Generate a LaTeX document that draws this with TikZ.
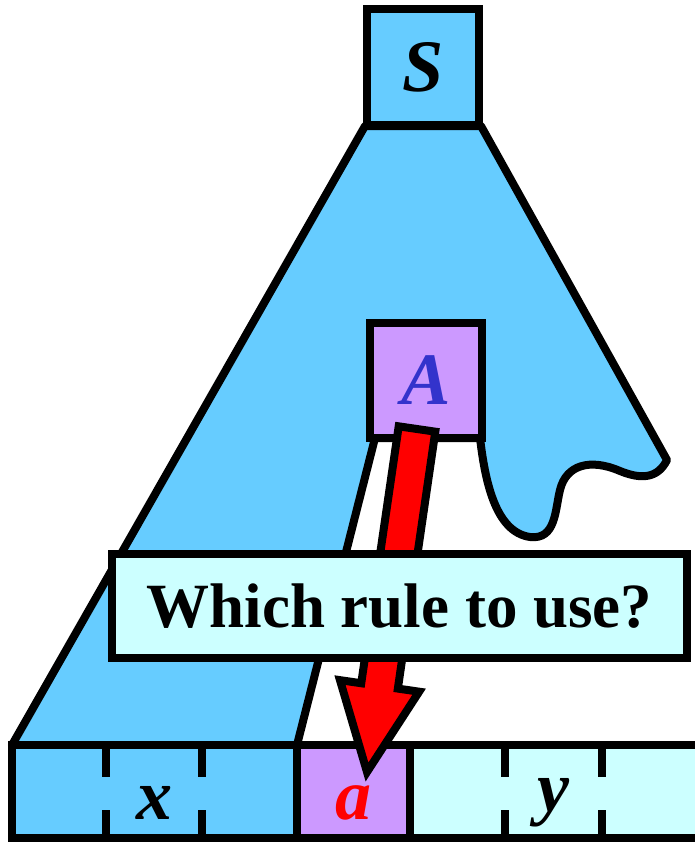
\documentclass[tikz,border=0pt]{standalone}
\usepackage{fontspec}
\setmainfont{Liberation Serif}
\usetikzlibrary{calc}
\definecolor{treeblue}{HTML}{66CCFF}
\definecolor{lilac}{HTML}{CC99FF}
\definecolor{paleCyan}{HTML}{CCFFFF}
\definecolor{Ablue}{HTML}{3333CC}
\tikzset{
  outline/.style={draw=black, line width=8pt},
  sqbox/.style={outline, minimum width=112pt, minimum height=115pt, inner sep=0pt,
    font=\fontsize{74}{74}\selectfont\bfseries\itshape},
  letter/.style={inner sep=0pt, font=\fontsize{72}{72}\selectfont\bfseries\itshape},
  tick/.style={line width=8pt}
}
\begin{document}
\begin{tikzpicture}[x=1pt,y=-1pt]
\useasboundingbox (0,0) rectangle (695,843);
\clip (0,0) rectangle (695,843);
% derivation tree shape
\filldraw[outline, fill=treeblue, line join=round]
  (365,126) -- (12,745) -- (297,745) -- (375,438) -- (480,438)
  .. controls (485,480) and (495,532) .. (530,537)
  .. controls (556,540) and (555,510) .. (560,490)
  .. controls (566,465) and (590,458) .. (620,471)
  .. controls (642,480) and (658,478) .. (667,460)
  -- (481,126) -- cycle;
% bottom string
\fill[treeblue] (12,745) rectangle (297,838);
\fill[lilac] (297,745) rectangle (410,838);
\fill[paleCyan] (410,745) rectangle (705,838);
\draw[outline] (705,745) -- (12,745) -- (12,838) -- (705,838);
\draw[outline] (297,745) -- (297,838);
\draw[outline] (410,745) -- (410,838);
\foreach \tx in {106,202,505,602}{
  \draw[tick] (\tx,745) -- (\tx,777);
  \draw[tick] (\tx,810) -- (\tx,838);
}
\node[letter] (xcell) at (154,803) {x};
\node[letter, text=red] (acell) at (353,803) {a};
\node[letter] (ycell) at (553,803) {y};
% S and A boxes
\node[sqbox, fill=treeblue] (S) at (423,67) {S};
\node[sqbox, fill=lilac, text=Ablue] (A) at (426,380) {A};
% arrow from A to a
\coordinate (T) at (417,429);
\coordinate (P) at (367,772);
\coordinate (B) at ($(T)!0.749!(P)$);
\filldraw[outline, fill=red, line join=miter]
  ($(T)!18.5pt!90:(P)$) -- ($(B)!18.5pt!-90:(T)$) -- ($(B)!40pt!-90:(T)$) -- (P)
  -- ($(B)!40pt!90:(T)$) -- ($(B)!18.5pt!90:(T)$) -- ($(T)!18.5pt!-90:(P)$) -- cycle;
% question
\node[outline, fill=paleCyan, minimum width=575pt, minimum height=104pt, inner sep=0pt,
  font=\fontsize{63}{63}\selectfont\bfseries] (Q) at (399.5,606) {Which rule to use?};
\end{tikzpicture}
\end{document}
